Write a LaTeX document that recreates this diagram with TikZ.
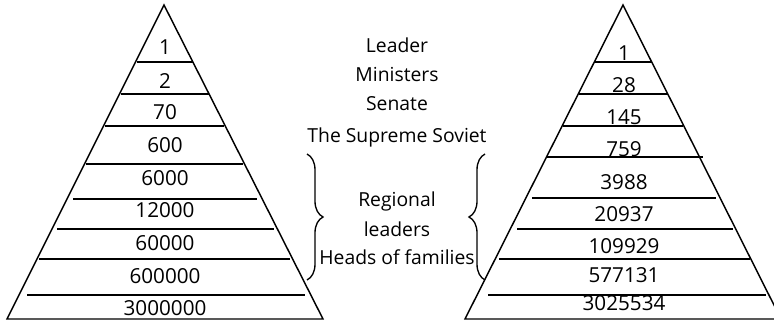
\documentclass[tikz,border=0pt]{standalone}
\usepackage{fontspec}
\setmainfont{Open Sans}
\usepackage{tikz}
\usetikzlibrary{decorations.pathreplacing}

\begin{document}
\begin{tikzpicture}[x=0.75pt, y=-0.75pt,
  pyr/.style={draw=black, line width=1.1pt, line join=miter},
  tier/.style={draw=black, line width=1.5pt},
  num/.style={anchor=base, inner sep=0pt, font=\fontsize{15.5}{18}\selectfont},
  rank/.style={anchor=base, inner sep=0pt, font=\fontsize{14.5}{18}\selectfont},
  grp/.style={draw=black, line width=1pt, decorate,
    decoration={brace, amplitude=12}}]

\useasboundingbox (0,0) rectangle (774,320);

% left pyramid
\draw[pyr] (164,5) -- (323,319) -- (7,319) -- cycle;
\draw[tier] (137,62) -- (193,62);
\draw[tier] (121,94) -- (209,94);
\draw[tier] (105,126) -- (224,126);
\draw[tier] (86,164) -- (243,164);
\draw[tier] (73,199) -- (257,199);
\draw[tier] (57,229) -- (274,229);
\draw[tier] (39,259) -- (290,259);
\draw[tier] (27,295) -- (305,295);

\node[num] (l1) at (165,55) {1};
\node[num] (l2) at (165,89) {2};
\node[num] (l3) at (165,120) {70};
\node[num] (l4) at (165,153) {600};
\node[num] (l5) at (165,186) {6000};
\node[num] (l6) at (165,218) {12000};
\node[num] (l7) at (165,251) {60000};
\node[num] (l8) at (165,283) {600000};
\node[num] (l9) at (165,315) {3000000};

% right pyramid
\draw[pyr] (623,5) -- (781,319) -- (465,319) -- cycle;
\draw[tier] (595,62) -- (651,62);
\draw[tier] (579,94) -- (668,94);
\draw[tier] (563,126) -- (683,126);
\draw[tier] (547,157) -- (703,157);
\draw[tier] (532,198) -- (716,198);
\draw[tier] (517,229) -- (733,229);
\draw[tier] (499,259) -- (750,259);
\draw[tier] (488,295) -- (766,295);

\node[num] (r1) at (624,61) {1};
\node[num] (r2) at (624,93) {28};
\node[num] (r3) at (624,125) {145};
\node[num] (r4) at (624,157) {759};
\node[num] (r5) at (624,190) {3988};
\node[num] (r6) at (624,222) {20937};
\node[num] (r7) at (624,253) {109929};
\node[num] (r8) at (624,282) {577131};
\node[num] (r9) at (624,310) {3025534};

% ranks in the middle
\node[rank] (leader) at (397,53) {Leader};
\node[rank] (minist) at (397,82) {Ministers};
\node[rank] (senate) at (397,111) {Senate};
\node[rank] (soviet) at (397,143) {The Supreme Soviet};
\node[rank] (region) at (397,207) {Regional};
\node[rank] (locals) at (397,237) {leaders};
\node[rank] (heads) at (397,265) {Heads of families};

\draw[grp] (307,154) -- (307,280);
\draw[grp] (485,280) -- (485,154);

\end{tikzpicture}
\end{document}
